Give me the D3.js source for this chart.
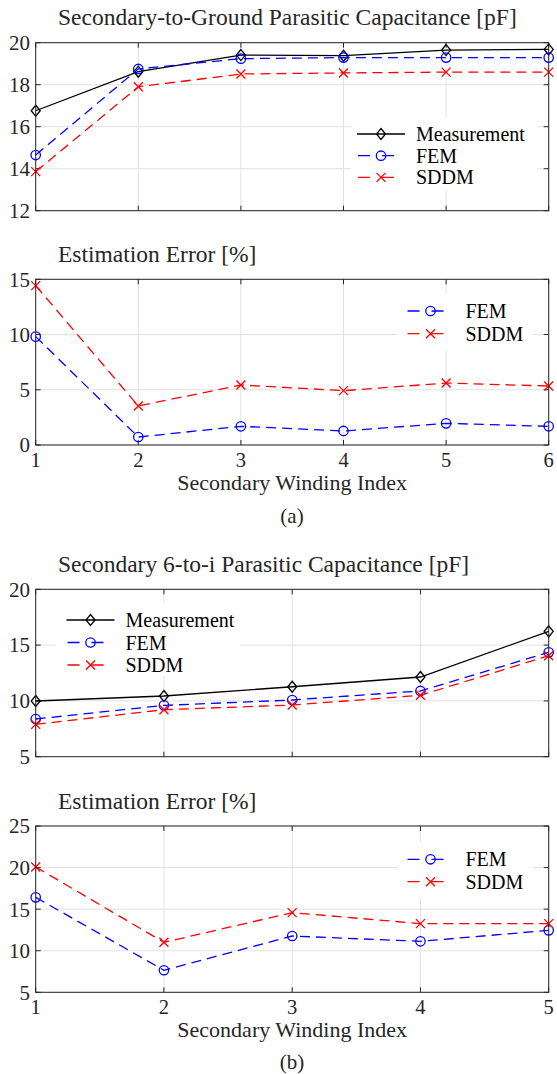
<!DOCTYPE html>
<html>
<head>
<meta charset="utf-8">
<script src="https://cdn.jsdelivr.net/npm/d3@7"></script>
<style>
body { margin: 0; background: #fff; }
text { font-family: "Liberation Serif", "Times New Roman", serif; fill: #262626; }
</style>
</head>
<body>
<div id="chart"></div>
<script>
// (a) secondary-to-ground
const groundIdx = [1, 2, 3, 4, 5, 6]
const groundMeas = [16.76, 18.62, 19.41, 19.38, 19.65, 19.68]
const groundFem = [14.65, 18.75, 19.24, 19.29, 19.29, 19.29]
const groundSddm = [13.86, 17.9, 18.51, 18.56, 18.6, 18.6]
const groundErrFem = [9.81, 0.72, 1.69, 1.27, 1.96, 1.69]
const groundErrSddm = [14.43, 3.53, 5.43, 4.92, 5.61, 5.34]

// (b) secondary 6-to-i
const sixIdx = [1, 2, 3, 4, 5]
const sixMeas = [9.99, 10.44, 11.27, 12.14, 16.23]
const sixFem = [8.38, 9.6, 10.08, 10.89, 14.35]
const sixSddm = [7.9, 9.21, 9.63, 10.5, 14.05]
const sixErrFem = [16.42, 7.65, 11.77, 11.13, 12.45]
const sixErrSddm = [20.07, 11.01, 14.58, 13.26, 13.26]

const ticks1 = [12, 14, 16, 18, 20]
const ticks2 = [0, 5, 10, 15]
const ticks3 = [5, 10, 15, 20]
const ticks4 = [5, 10, 15, 20, 25]

const W = 557, H = 1074
const L = 35.7, R = 548.7
const axisCol = '#262626'
const dash = '10,6'

const svg = d3.select('#chart').append('svg').attr('width', W).attr('height', H)
svg.append('rect').attr('width', W).attr('height', H).attr('fill', '#fff')

const styles = {
    meas: { name: 'Measurement', color: '#000', dash: null, marker: 'diamond' },
    fem: { name: 'FEM', color: '#0000ff', dash: dash, marker: 'circle' },
    sddm: { name: 'SDDM', color: '#ff0000', dash: dash, marker: 'cross' }
}

const draw_marker = (g, kind, x, y, color) => {
    if (kind == 'diamond') {
        g.append('path').attr('d', `M${x},${y-5.5}L${x+4.5},${y}L${x},${y+5.5}L${x-4.5},${y}Z`)
            .attr('fill', 'none').attr('stroke', color).attr('stroke-width', 1.3)
    } else if (kind == 'circle') {
        g.append('circle').attr('cx', x).attr('cy', y).attr('r', 4.7)
            .attr('fill', 'none').attr('stroke', color).attr('stroke-width', 1.3)
    } else {
        g.append('path').attr('d', `M${x-4.5},${y-4.5}L${x+4.5},${y+4.5}M${x-4.5},${y+4.5}L${x+4.5},${y-4.5}`)
            .attr('stroke', color).attr('stroke-width', 1.3)
    }
}

const draw_panel = (p) => {
    const x = d3.scaleLinear().domain(d3.extent(p.idx)).range([L, R])
    const y = d3.scaleLinear().domain(d3.extent(p.yTicks)).range([p.bottom, p.top])
    const g = svg.append('g')

    // grid
    g.selectAll('.gx').data(p.idx).enter().append('line')
        .attr('x1', d => x(d)).attr('x2', d => x(d)).attr('y1', p.top).attr('y2', p.bottom)
        .attr('stroke', '#e2e2e2').attr('stroke-width', 1)
    g.selectAll('.gy').data(p.yTicks).enter().append('line')
        .attr('x1', L).attr('x2', R).attr('y1', d => y(d)).attr('y2', d => y(d))
        .attr('stroke', '#e2e2e2').attr('stroke-width', 1)

    // ticks (inside, all four sides)
    const tk = 5
    p.idx.forEach(d => {
        g.append('line').attr('x1', x(d)).attr('x2', x(d)).attr('y1', p.bottom).attr('y2', p.bottom - tk).attr('stroke', axisCol)
        g.append('line').attr('x1', x(d)).attr('x2', x(d)).attr('y1', p.top).attr('y2', p.top + tk).attr('stroke', axisCol)
    })
    p.yTicks.forEach(d => {
        g.append('line').attr('x1', L).attr('x2', L + tk).attr('y1', y(d)).attr('y2', y(d)).attr('stroke', axisCol)
        g.append('line').attr('x1', R).attr('x2', R - tk).attr('y1', y(d)).attr('y2', y(d)).attr('stroke', axisCol)
    })

    // legend box (hides grid)
    const lg = p.legend
    g.append('rect').attr('x', lg.box[0]).attr('y', lg.box[1]).attr('width', lg.box[2]).attr('height', lg.box[3]).attr('fill', '#fff')

    // series
    const line = d3.line().x((d, i) => x(p.idx[i])).y(d => y(d))
    p.series.forEach(s => {
        const st = styles[s.key]
        g.append('path').attr('d', line(s.values)).attr('fill', 'none')
            .attr('stroke', st.color).attr('stroke-width', 1.3)
            .attr('stroke-dasharray', st.dash)
        s.values.forEach((v, i) => draw_marker(g, st.marker, x(p.idx[i]), y(v), st.color))
    })

    // legend entries
    p.series.forEach((s, i) => {
        const st = styles[s.key]
        const ly = lg.y + i * lg.step
        g.append('line').attr('x1', lg.x).attr('x2', lg.x + 48).attr('y1', ly).attr('y2', ly)
            .attr('stroke', st.color).attr('stroke-width', 1.3).attr('stroke-dasharray', st.dash ? '12,12' : null)
            .attr('stroke-dashoffset', st.dash ? -1 : null)
        draw_marker(g, st.marker, lg.x + 24, ly, st.color)
        g.append('text').attr('x', lg.x + 59).attr('y', ly).attr('dy', '0.35em')
            .style('font-size', '20px').style('fill', '#000').text(st.name)
    })

    // box
    g.append('rect').attr('x', L).attr('y', p.top).attr('width', R - L).attr('height', p.bottom - p.top)
        .attr('fill', 'none').attr('stroke', axisCol).attr('stroke-width', 1)

    // y tick labels
    g.selectAll('.yl').data(p.yTicks).enter().append('text')
        .attr('x', 30).attr('y', d => y(d)).attr('dy', '0.35em').attr('text-anchor', 'end')
        .style('font-size', '21px').text(d => d)

    if (p.xLabels) {
        g.selectAll('.xl').data(p.idx).enter().append('text')
            .attr('x', d => x(d)).attr('y', p.bottom + 22).attr('text-anchor', 'middle')
            .style('font-size', '20.5px').text(d => d)
        g.append('text').attr('x', (L + R) / 2).attr('y', p.bottom + 45).attr('text-anchor', 'middle')
            .style('font-size', '22px').text('Secondary Winding Index')
    }

    g.append('text').attr('x', 58).attr('y', p.top - 17.5).style('font-size', '23.5px').text(p.title)
}

draw_panel({
    top: 42.7, bottom: 210.7, idx: groundIdx, yTicks: ticks1, xLabels: false,
    title: 'Secondary-to-Ground Parasitic Capacitance [pF]',
    series: [{ key: 'meas', values: groundMeas }, { key: 'fem', values: groundFem }, { key: 'sddm', values: groundSddm }],
    legend: { x: 357, y: 134, step: 21.7, box: [351, 118, 186, 72] }
})
draw_panel({
    top: 279.3, bottom: 445, idx: groundIdx, yTicks: ticks2, xLabels: true,
    title: 'Estimation Error [%]',
    series: [{ key: 'fem', values: groundErrFem }, { key: 'sddm', values: groundErrSddm }],
    legend: { x: 406.5, y: 311, step: 22.7, box: [398, 294, 135, 56] }
})
draw_panel({
    top: 589.3, bottom: 756.7, idx: sixIdx, yTicks: ticks3, xLabels: false,
    title: 'Secondary 6-to-i Parasitic Capacitance [pF]',
    series: [{ key: 'meas', values: sixMeas }, { key: 'fem', values: sixFem }, { key: 'sddm', values: sixSddm }],
    legend: { x: 66.5, y: 620, step: 22.5, box: [56, 603, 184, 73] }
})
draw_panel({
    top: 826, bottom: 992.3, idx: sixIdx, yTicks: ticks4, xLabels: true,
    title: 'Estimation Error [%]',
    series: [{ key: 'fem', values: sixErrFem }, { key: 'sddm', values: sixErrSddm }],
    legend: { x: 406.5, y: 859.3, step: 22.4, box: [398, 842, 135, 56] }
})

svg.append('text').attr('x', 292).attr('y', 523).attr('text-anchor', 'middle').style('font-size', '21px').text('(a)')
svg.append('text').attr('x', 292).attr('y', 1069).attr('text-anchor', 'middle').style('font-size', '21px').text('(b)')
</script>
</body>
</html>
